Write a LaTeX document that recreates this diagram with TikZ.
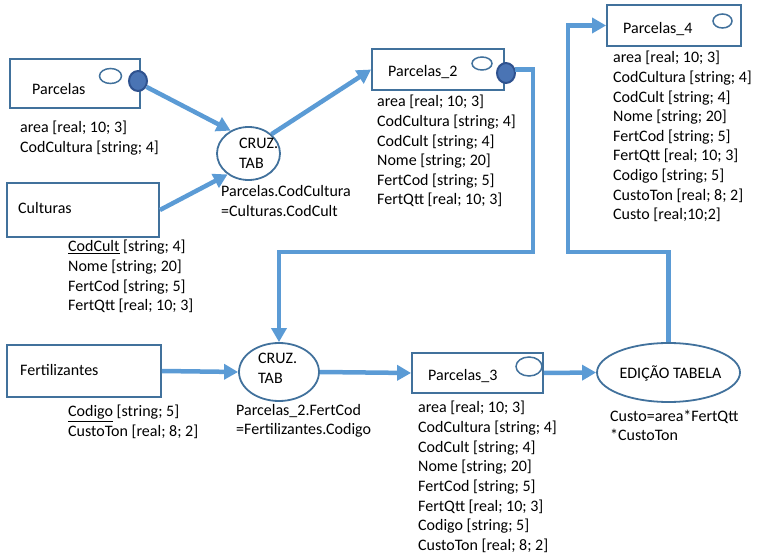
\documentclass[tikz,border=0pt]{standalone}
\usepackage{fontspec}
\setmainfont{Carlito}
\usetikzlibrary{arrows.meta,shapes.geometric}
\definecolor{boxc}{HTML}{41719C}
\definecolor{conc}{HTML}{5B9BD5}
\definecolor{dotf}{HTML}{4A74B4}
\definecolor{dotd}{HTML}{2F528F}
\tikzset{
 tbl/.style={draw=boxc, line width=1.8pt, rectangle, inner sep=0pt},
 proc/.style={draw=boxc, line width=1.8pt, ellipse, inner sep=0pt},
 odot/.style={draw=boxc, line width=1.5pt, ellipse, inner sep=0pt, fill=white},
 fdot/.style={draw=dotd, line width=2pt, ellipse, inner sep=0pt, fill=dotf},
 txt/.style={anchor=base west, inner sep=0pt, font=\fontsize{16}{19.6}\selectfont},
 conn/.style={draw=conc, line width=4.5pt, -{Triangle[length=14pt,width=15pt]}},
}
\begin{document}
\begin{tikzpicture}[x=1pt,y=-1pt]
\useasboundingbox (0,0) rectangle (758,553);

% ---- tables (boxes)
\node[tbl, minimum width=130pt, minimum height=49pt] (parc) at (75,83.5) {};
\node[tbl, minimum width=152pt, minimum height=54pt] (cult) at (83,210) {};
\node[tbl, minimum width=132pt, minimum height=41pt] (p2) at (438,69.5) {};
\node[tbl, minimum width=134pt, minimum height=41pt] (p4) at (674,25.5) {};
\node[tbl, minimum width=154pt, minimum height=52pt] (fert) at (84,371) {};
\node[tbl, minimum width=131pt, minimum height=40pt] (p3) at (477.5,373) {};

% ---- box labels
\node[txt] (lparc) at (32,95) {Parcelas};
\node[txt] (lcult) at (18,214) {Culturas};
\node[txt] (lp2) at (388,77) {Parcelas\_2};
\node[txt] (lp4) at (623,34) {Parcelas\_4};
\node[txt] (lfert) at (20,375) {Fertilizantes};
\node[txt] (lp3) at (428,381) {Parcelas\_3};

% ---- small ellipses
\node[odot, minimum width=22pt, minimum height=15pt] (oparc) at (110.5,76) {};
\node[odot, minimum width=20pt, minimum height=13pt] (op2) at (482,63.5) {};
\node[odot, minimum width=19pt, minimum height=14pt] (op4) at (722.5,21) {};
\node[odot, minimum width=26pt, minimum height=19pt] (op3) at (529,366.5) {};
\node[fdot, minimum width=18pt, minimum height=20pt] (pf1) at (138,81) {};
\node[fdot, minimum width=18pt, minimum height=20pt] (pf2) at (506,73) {};

% ---- processes
\node[proc, minimum width=63pt, minimum height=53pt] (c1) at (248.5,153.5) {};
\node[proc, minimum width=80pt, minimum height=58pt] (c2) at (279,372) {};
\node[proc, minimum width=143pt, minimum height=59pt] (ed) at (668.5,372.5) {};
\node[txt] (c1a) at (239,149) {CRUZ.};
\node[txt] (c1b) at (239,168.5) {TAB};
\node[txt] (c2a) at (258,364) {CRUZ.};
\node[txt] (c2b) at (258,383.5) {TAB};
\node[txt, anchor=base] (eda) at (670.5,378) {EDIÇÃO TABELA};

% ---- conditions / formulas
\node[txt] (c1c) at (221,197) {Parcelas.CodCultura};
\node[txt] (c1d) at (221,216.6) {=Culturas.CodCult};
\node[txt] (c2c) at (236,415) {Parcelas\_2.FertCod};
\node[txt] (c2d) at (236,434.6) {=Fertilizantes.Codigo};
\node[txt] (edc) at (610,421) {Custo=area*FertQtt};
\node[txt] (edd) at (610,440.6) {*CustoTon};

% ---- attribute lists
\foreach \t [count=\i from 0] in {{area [real; 10; 3]},{CodCultura [string; 4]}}
  \node[txt] (lpa\i) at (20,{133+19.6*\i}) {\t};
\foreach \t [count=\i from 0] in {{\underline{CodCult} [string; 4]},{Nome [string; 20]},{FertCod [string; 5]},{FertQtt [real; 10; 3]}}
  \node[txt] (lcu\i) at (68,{252+19.6*\i}) {\t};
\foreach \t [count=\i from 0] in {{area [real; 10; 3]},{CodCultura [string; 4]},{CodCult [string; 4]},{Nome [string; 20]},{FertCod [string; 5]},{FertQtt [real; 10; 3]}}
  \node[txt] (lpb\i) at (377,{107+19.6*\i}) {\t};
\foreach \t [count=\i from 0] in {{area [real; 10; 3]},{CodCultura [string; 4]},{CodCult [string; 4]},{Nome [string; 20]},{FertCod [string; 5]},{FertQtt [real; 10; 3]},{Codigo [string; 5]},{CustoTon [real; 8; 2]},{Custo [real;10;2]}}
  \node[txt] (lpd\i) at (613,{63+19.6*\i}) {\t};
\foreach \t [count=\i from 0] in {{\underline{Codigo} [string; 5]},{CustoTon [real; 8; 2]}}
  \node[txt] (lfe\i) at (68,{417+19.6*\i}) {\t};
\foreach \t [count=\i from 0] in {{area [real; 10; 3]},{CodCultura [string; 4]},{CodCult [string; 4]},{Nome [string; 20]},{FertCod [string; 5]},{FertQtt [real; 10; 3]},{Codigo [string; 5]},{CustoTon [real; 8; 2]}}
  \node[txt] (lpc\i) at (418,{413+19.6*\i}) {\t};

% ---- connectors
\coordinate (k2) at (533,252);
\coordinate (k3) at (568,252);
\draw[conn] (pf1.-35) -- (c1.128);
\draw[conn] (cult.east) -- (c1.225);
\draw[conn] (c1.40) -- (p2.west);
\draw[conn] (pf2.20) -- (pf2.20 -| k2) -- (k2) -| (c2.north);
\draw[conn] (fert.east) -- (c2.west);
\draw[conn] (c2.east) -- (p3.west);
\draw[conn] (p3.east) -- (ed.west);
\draw[conn] (ed.north) |- (k3) |- (p4.west);
\end{tikzpicture}
\end{document}
